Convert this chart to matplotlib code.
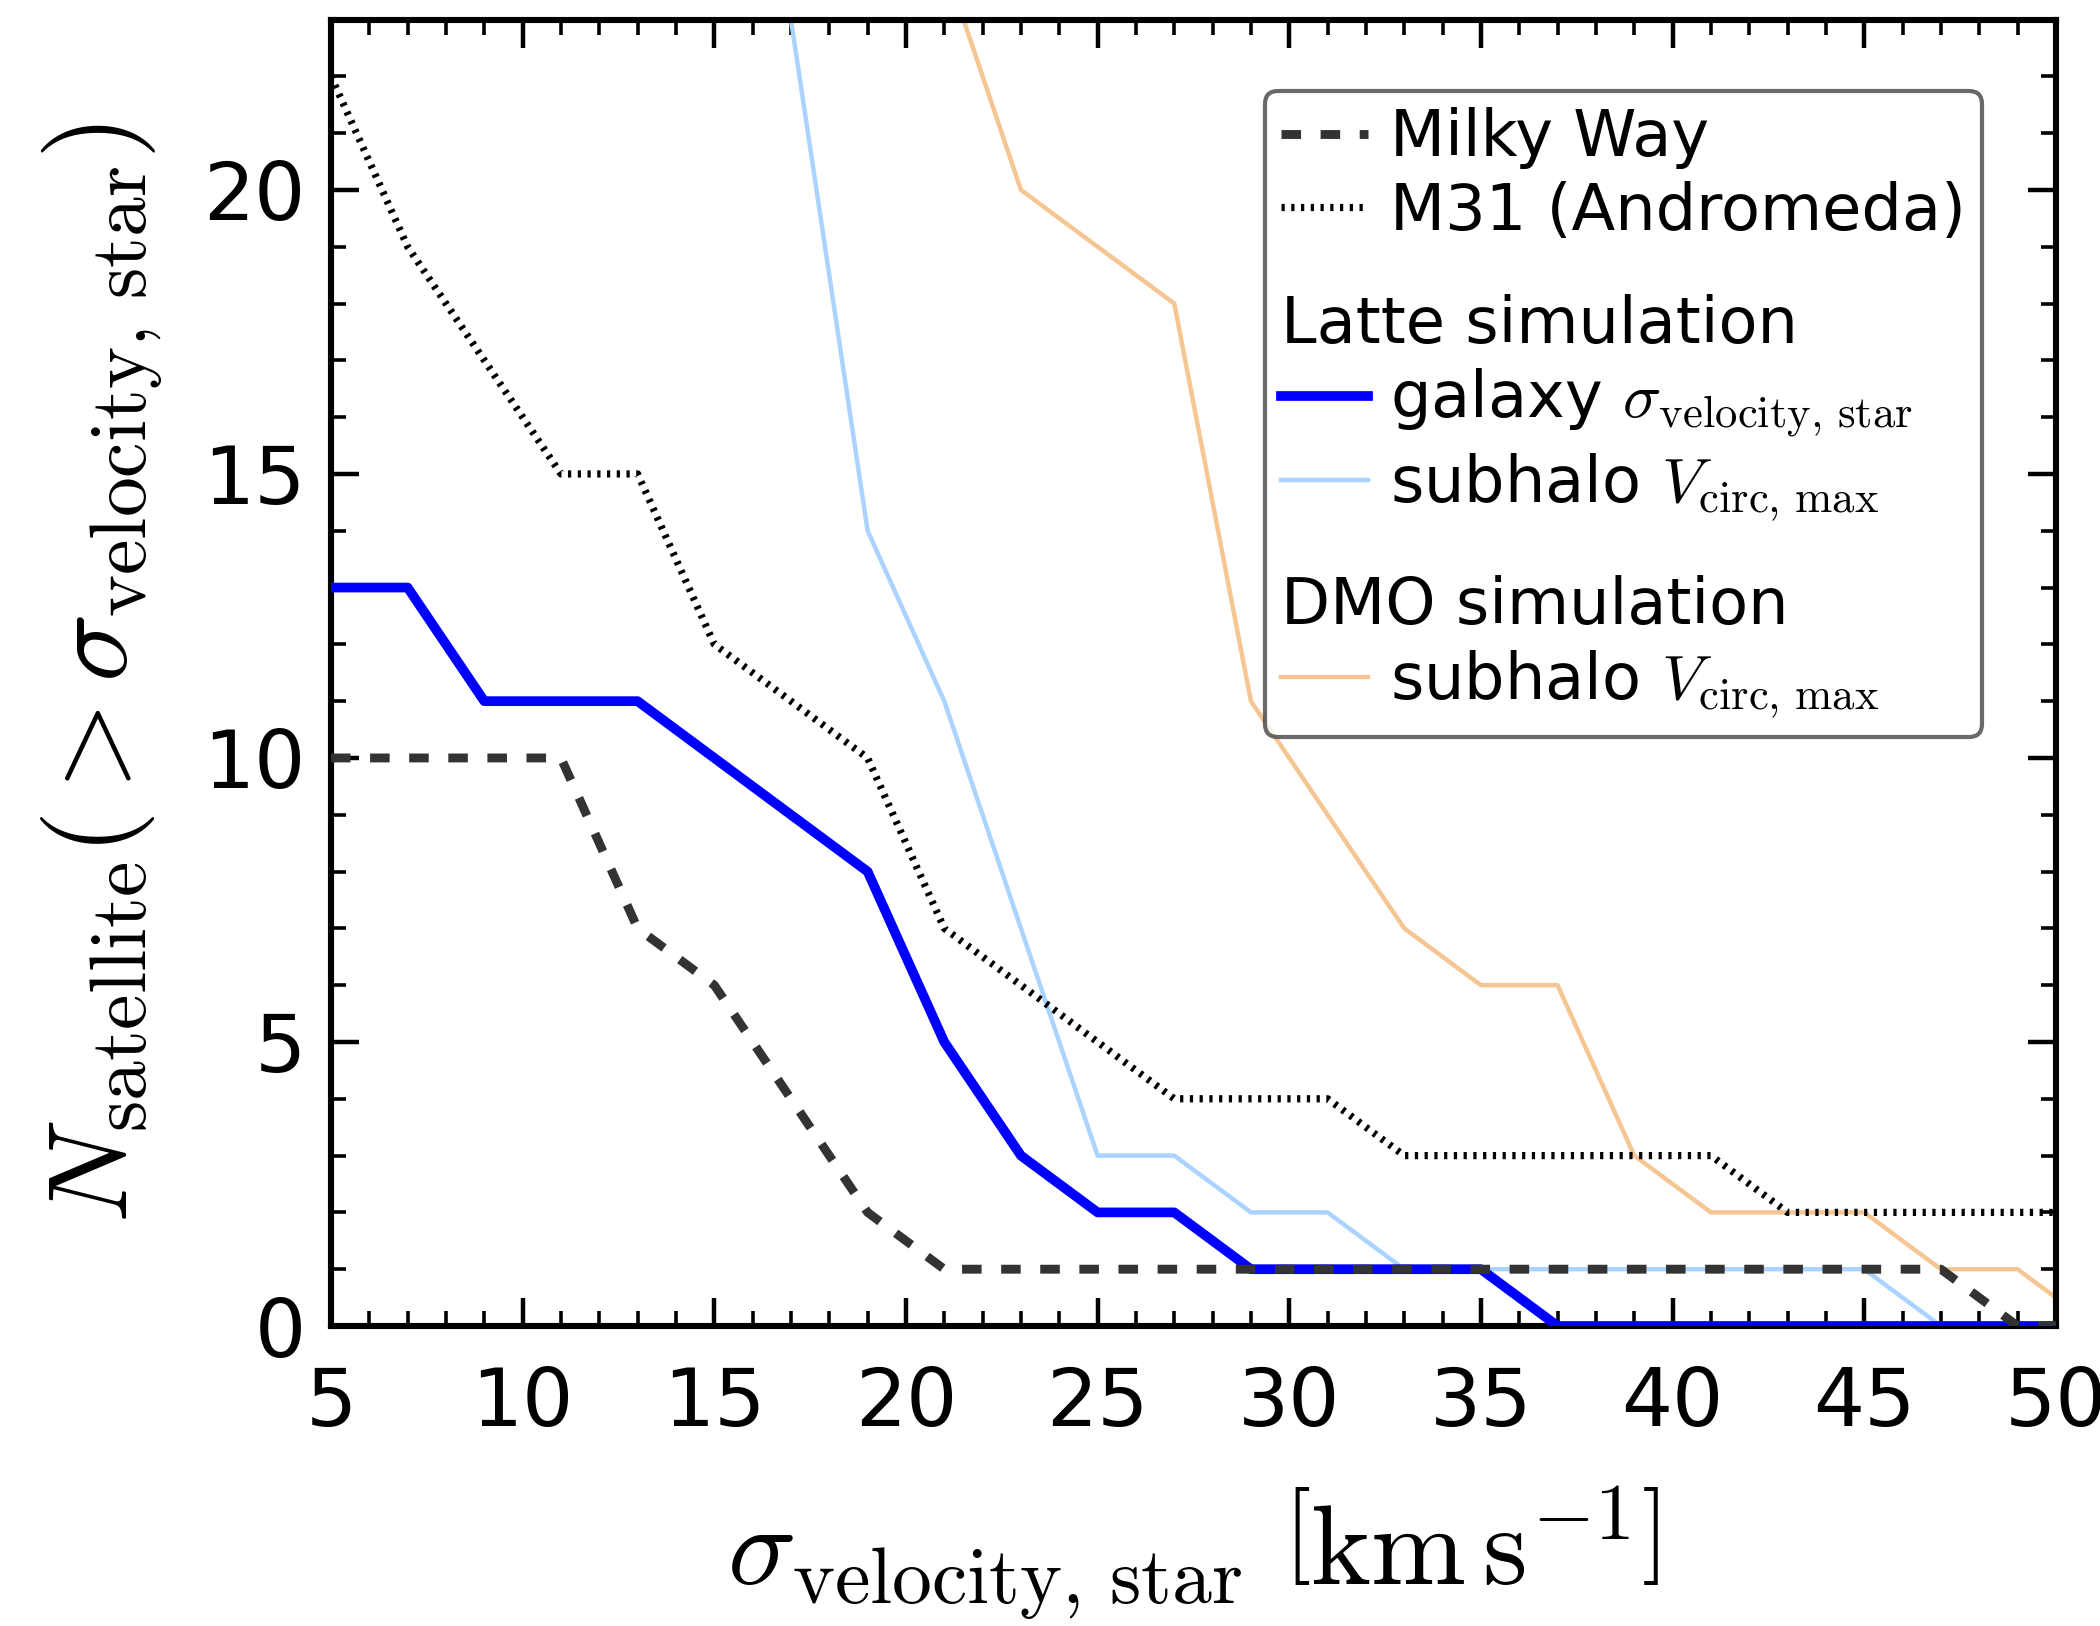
import matplotlib
matplotlib.use("Agg")
import matplotlib.pyplot as plt
from matplotlib.lines import Line2D

plt.rcParams['mathtext.fontset'] = 'cm'
plt.rcParams['font.family'] = 'DejaVu Sans'

# cumulative satellite counts vs sigma (km/s)
mw_x = [5, 7, 9, 11, 13, 15, 17, 19, 21, 23, 25, 27, 29, 31, 33, 35, 37, 39, 41, 43, 45, 47, 49, 51]
mw_n = [10, 10, 10, 10, 7, 6, 4, 2, 1, 1, 1, 1, 1, 1, 1, 1, 1, 1, 1, 1, 1, 1, 0, 0]

m31_x = [5, 7, 9, 11, 13, 15, 17, 19, 21, 23, 25, 27, 29, 31, 33, 35, 37, 39, 41, 43, 45, 47, 49, 51]
m31_n = [22, 19, 17, 15, 15, 12, 11, 10, 7, 6, 5, 4, 4, 4, 3, 3, 3, 3, 3, 2, 2, 2, 2, 2]

gal_x = [5, 7, 9, 11, 13, 15, 17, 19, 21, 23, 25, 27, 29, 31, 33, 35, 37, 39, 41, 43, 45, 47, 49, 51]
gal_n = [13, 13, 11, 11, 11, 10, 9, 8, 5, 3, 2, 2, 1, 1, 1, 1, 0, 0, 0, 0, 0, 0, 0, 0]

latte_x = [15, 17, 19, 21, 23, 25, 27, 29, 31, 33, 35, 37, 39, 41, 43, 45, 47, 49, 51]
latte_n = [32, 23, 14, 11, 7, 3, 3, 2, 2, 1, 1, 1, 1, 1, 1, 1, 0, 0, 0]

dmo_x = [19, 21, 23, 25, 27, 29, 31, 33, 35, 37, 39, 41, 43, 45, 47, 49, 51]
dmo_n = [28, 24, 20, 19, 18, 11, 9, 7, 6, 6, 3, 2, 2, 2, 1, 1, 0]

fig = plt.figure(figsize=(10.5, 8.13), dpi=200)
ax = fig.add_axes([0.1576, 0.1845, 0.8214, 0.8035])

c_mw = '#333333'
c_gal = '#0000ff'
c_latte = '#aad3ff'
c_dmo = '#f5c592'

ax.plot(dmo_x, dmo_n, color=c_dmo, lw=1.6, zorder=2)
ax.plot(latte_x, latte_n, color=c_latte, lw=1.6, zorder=2)
ax.plot(m31_x, m31_n, color='black', lw=2.6, ls=(0, (0.45, 0.9)), zorder=3)
ax.plot(gal_x, gal_n, color=c_gal, lw=3.5, zorder=4)
ax.plot(mw_x, mw_n, color=c_mw, lw=3.2, ls=(0, (2.2, 2.2)), zorder=5)

ax.set_xlim(5, 50)
ax.set_ylim(0, 23)
ax.set_xticks(range(5, 51, 5))
ax.set_xticks(range(5, 51, 1), minor=True)
ax.set_yticks([0, 5, 10, 15, 20])
ax.set_yticks(range(0, 24), minor=True)
ax.tick_params(which='both', direction='in', top=True, right=True, labelsize=29)
ax.tick_params(axis='x', which='major', pad=14)
ax.tick_params(axis='y', which='major', pad=9)
ax.tick_params(which='major', length=10, width=1.6)
ax.tick_params(which='minor', length=5.5, width=1.3)
for s in ax.spines.values():
    s.set_linewidth(2.2)

ax.set_xlabel(r'$\sigma_{\rm velocity,\,star}\ \left[{\rm km\,s^{-1}}\right]$', fontsize=41, labelpad=15)
ax.set_ylabel(r'$N_{\rm satellite}(>\sigma_{\rm velocity,\,star})$', fontsize=41, labelpad=14)

blank = Line2D([], [], color='none')
handles = [
    Line2D([], [], color=c_mw, lw=3.2, ls=(0, (2.2, 2.2))),
    Line2D([], [], color='black', lw=2.6, ls=(0, (0.45, 0.9))),
    blank,
    blank,
    Line2D([], [], color=c_gal, lw=3.5),
    Line2D([], [], color=c_latte, lw=1.6),
    blank,
    blank,
    Line2D([], [], color=c_dmo, lw=1.6),
]
labels = [
    'Milky Way',
    'M31 (Andromeda)',
    ' ',
    'Latte simulation',
    r'galaxy $\sigma_{\rm velocity,\,star}$',
    r'subhalo $V_{\rm circ,\,max}$',
    ' ',
    'DMO simulation',
    r'subhalo $V_{\rm circ,\,max}$',
]
leg = ax.legend(handles, labels, loc='upper right', bbox_to_anchor=(0.957, 0.945),
                fontsize=23, handlelength=1.35, handletextpad=0.35, labelspacing=0.18,
                borderpad=0.25, borderaxespad=0, frameon=True, fancybox=True)
leg.get_frame().set_edgecolor('#444444')
leg.get_frame().set_linewidth(1.5)

# header rows without handle indent, spacer rows squeezed
for col in leg._legend_handle_box.get_children():
    for row in col.get_children():
        da, ta = row.get_children()
        txt = ta._text.get_text()
        if txt in ('Latte simulation', 'DMO simulation'):
            da.width = 0
            row.sep = 0
        elif txt == ' ':
            da.height = 0
            ta._text.set_fontsize(10)

fig.savefig('out.png', dpi=200)
